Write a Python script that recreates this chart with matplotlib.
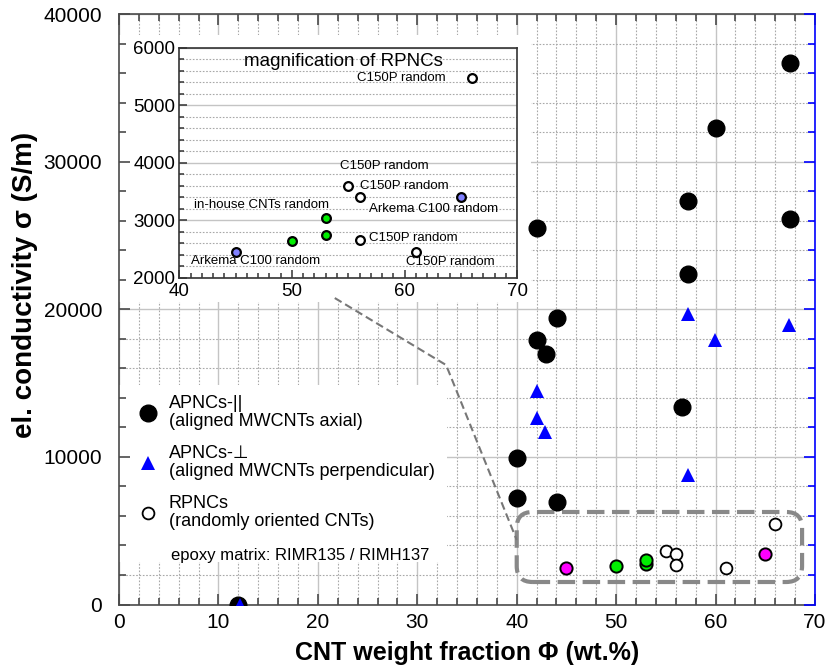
import matplotlib
matplotlib.use("Agg")
import matplotlib.pyplot as plt
from matplotlib.lines import Line2D
from matplotlib.patches import Rectangle, FancyBboxPatch
from matplotlib.ticker import MultipleLocator

plt.rcParams['font.family'] = ['Liberation Sans', 'DejaVu Sans']

# --- data -------------------------------------------------------------
# aligned nanocomposites, MWCNTs axial (APNCs-||)
par_x = [67.5, 60.0, 57.2, 67.5, 42.0, 57.2, 44.1, 42.0, 42.9, 56.6, 40.0, 40.0, 44.1, 12.0]
par_y = [36700, 32300, 27300, 26100, 25500, 22400, 19400, 17900, 16950, 13400, 9900, 7200, 6950, 0]

# aligned nanocomposites, MWCNTs perpendicular (APNCs-⊥)
perp_x = [57.2, 67.4, 59.9, 42.0, 42.0, 42.8, 57.2, 12.2]
perp_y = [19650, 18950, 17950, 14450, 12650, 11700, 8800, 0]

# randomly oriented nanocomposites (RPNCs), by CNT type
c150p_x = [55, 56, 56, 61, 66]
c150p_y = [3600, 3400, 2650, 2450, 5480]
arkema_x = [45, 65]
arkema_y = [2450, 3400]
inhouse_x = [50, 53, 53]
inhouse_y = [2640, 2750, 3030]

# annotations of the magnified RPNC panel: text, x, y, alignment
inset_notes = [
    ("C150P random", 63.6, 5480, 'right'),
    ("C150P random", 54.3, 3950, 'left'),
    ("C150P random", 56.0, 3600, 'left'),
    ("Arkema C100 random", 56.8, 3195, 'left'),
    ("in-house CNTs random", 53.3, 3265, 'right'),
    ("C150P random", 56.8, 2685, 'left'),
    ("Arkema C100 random", 41.0, 2290, 'left'),
    ("C150P random", 60.1, 2268, 'left'),
]

x_ticks = [0, 10, 20, 30, 40, 50, 60, 70]
y_ticks = [0, 10000, 20000, 30000, 40000]
inset_x_ticks = [40, 50, 60, 70]
inset_y_ticks = [2000, 3000, 4000, 5000, 6000]

# --- figure -----------------------------------------------------------
W, H = 829, 672
fig = plt.figure(figsize=(W / 100, H / 100), dpi=100)
main_rect = [119 / W, (H - 604.5) / H, 696 / W, 590.5 / H]

spine_col = '#4a4a4a'
major_grid = dict(color='#c4c4c4', linewidth=1.0, linestyle='-')
minor_grid = dict(color='#a8a8a8', linewidth=0.8, linestyle=(0, (1.5, 1.5)))


def setup_limits(a):
    a.set_xlim(0, 70)
    a.set_ylim(0, 40000)
    a.xaxis.set_major_locator(MultipleLocator(10))
    a.xaxis.set_minor_locator(MultipleLocator(2))
    a.yaxis.set_major_locator(MultipleLocator(10000))
    a.yaxis.set_minor_locator(MultipleLocator(2000))


# grid layer (underneath everything)
axg = fig.add_axes(main_rect)
setup_limits(axg)
axg.grid(True, which='major', **major_grid)
axg.grid(True, which='minor', **minor_grid)
axg.tick_params(which='both', length=0, labelbottom=False, labelleft=False)
for s in axg.spines.values():
    s.set_visible(False)
# white backdrops for the magnified panel and the legend
axg.add_patch(Rectangle((0, 20500), 41.4, 18100, facecolor='white', edgecolor='none', zorder=3))
axg.add_patch(Rectangle((0, 2880), 33.0, 11990, facecolor='white', edgecolor='none', zorder=3))

# data layer
ax = fig.add_axes(main_rect)
ax.patch.set_alpha(0)
setup_limits(ax)
ax.set_xticks(x_ticks)
ax.set_yticks(y_ticks)
for side in ('left', 'bottom', 'top'):
    ax.spines[side].set_color(spine_col)
    ax.spines[side].set_linewidth(1.2)
ax.spines['right'].set_visible(False)
ax.tick_params(which='both', direction='in', top=True, right=False, color=spine_col, width=1.2)
ax.tick_params(which='major', length=8, labelsize=15)
ax.tick_params(which='minor', length=5)
ax.tick_params(axis='y', pad=12)
ax.tick_params(axis='x', pad=6)

ax.set_xlabel('CNT weight fraction Φ (wt.%)', fontsize=18, fontweight='bold')
ax.set_ylabel('el. conductivity σ (S/m)', fontsize=20, fontweight='bold')
ax.xaxis.set_label_coords(0.5, -0.062)
ax.yaxis.set_label_coords(-0.116, 0.541)

ax.plot(par_x, par_y, 'o', color='black', markersize=12, zorder=4)
ax.plot(perp_x, perp_y, '^', color='blue', markersize=10.5, markeredgewidth=0, zorder=4)
ax.plot(c150p_x, c150p_y, 'o', markerfacecolor='white', markeredgecolor='black',
        markersize=8.5, markeredgewidth=1.3, zorder=4)
ax.plot(arkema_x, arkema_y, 'o', markerfacecolor='#ff00ff', markeredgecolor='black',
        markersize=8.8, markeredgewidth=1.4, zorder=4)
ax.plot(inhouse_x, inhouse_y, 'o', markerfacecolor='#00ee00', markeredgecolor='black',
        markersize=8.8, markeredgewidth=1.4, zorder=4)

# dashed frame around the RPNC cluster and its link to the magnified panel
fig.canvas.draw()
aspect = (ax.bbox.width / 70) / (ax.bbox.height / 40000)
frame = FancyBboxPatch((40.0, 1524), 28.7, 4742,
                       boxstyle='round,pad=0,rounding_size=1.6',
                       mutation_aspect=aspect, facecolor='none',
                       edgecolor='#888888', linewidth=3.0,
                       linestyle=(0, (4.2, 1.8)), zorder=3)
ax.add_patch(frame)
ax.plot([21.7, 32.9, 40.0], [20760, 16220, 4370], color='#777777',
        linewidth=1.5, linestyle=(0, (3.8, 2.0)), zorder=3)

# right axis in blue
axr = ax.twinx()
axr.set_ylim(0, 40000)
axr.yaxis.set_major_locator(MultipleLocator(10000))
axr.yaxis.set_minor_locator(MultipleLocator(2000))
axr.tick_params(which='both', direction='in', color='blue', width=1.2, labelright=False)
axr.tick_params(which='major', length=8)
axr.tick_params(which='minor', length=5)
axr.spines['right'].set_color('blue')
axr.spines['right'].set_linewidth(1.2)
for side in ('left', 'top', 'bottom'):
    axr.spines[side].set_visible(False)

# legend
handles = [
    Line2D([], [], linestyle='none', marker='o', color='black', markersize=12),
    Line2D([], [], linestyle='none', marker='^', color='blue', markersize=10.5, markeredgewidth=0),
    Line2D([], [], linestyle='none', marker='o', markerfacecolor='white',
           markeredgecolor='black', markersize=8.5, markeredgewidth=1.3),
]
labels = ['APNCs-||\n(aligned MWCNTs axial)',
          'APNCs-⊥\n(aligned MWCNTs perpendicular)',
          'RPNCs\n(randomly oriented CNTs)']
leg = ax.legend(handles, labels, loc='upper left', frameon=False, fontsize=13,
                bbox_to_anchor=(139 / W, 1 - 395 / H), bbox_transform=fig.transFigure,
                borderpad=0, borderaxespad=0, handlelength=1.0, handletextpad=0.65,
                labelspacing=0.85)
for t in leg.get_texts():
    t.set_linespacing(1.05)
ax.text(5.2, 3350, 'epoxy matrix: RIMR135 / RIMH137', fontsize=12, va='center', ha='left')

# magnified panel of the RPNC data
ins = fig.add_axes([179.3 / W, (H - 277.7) / H, 338 / W, 230 / H])
ins.set_xlim(40, 70)
ins.set_ylim(2000, 6000)
ins.set_xticks(inset_x_ticks)
ins.set_yticks(inset_y_ticks)
ins.xaxis.set_minor_locator(MultipleLocator(1))
ins.yaxis.set_minor_locator(MultipleLocator(200))
ins.grid(True, axis='y', which='major', **major_grid)
ins.grid(True, axis='y', which='minor', **minor_grid)
ins.set_axisbelow(True)
for s in ins.spines.values():
    s.set_color('#333333')
    s.set_linewidth(1.2)
ins.tick_params(which='both', direction='in', color='#333333', width=1.1)
ins.tick_params(which='major', length=6, labelsize=13.5)
ins.tick_params(axis='y', pad=3)
ins.tick_params(axis='x', pad=4)
ins.tick_params(which='minor', length=3.5)

ins.plot(c150p_x, c150p_y, 'o', markerfacecolor='white', markeredgecolor='black',
         markersize=6.3, markeredgewidth=1.6, zorder=4)
ins.plot(arkema_x, arkema_y, 'o', markerfacecolor='#8080ff', markeredgecolor='black',
         markersize=6.3, markeredgewidth=1.6, zorder=4)
ins.plot(inhouse_x, inhouse_y, 'o', markerfacecolor='#00ee00', markeredgecolor='black',
         markersize=6.3, markeredgewidth=1.6, zorder=4)
ins.text(54.6, 5768, 'magnification of RPNCs', fontsize=13.5, ha='center', va='center')
for txt, tx, ty, ha in inset_notes:
    ins.text(tx, ty, txt, fontsize=9.5, ha=ha, va='center')

fig.savefig('out.png', dpi=100)
